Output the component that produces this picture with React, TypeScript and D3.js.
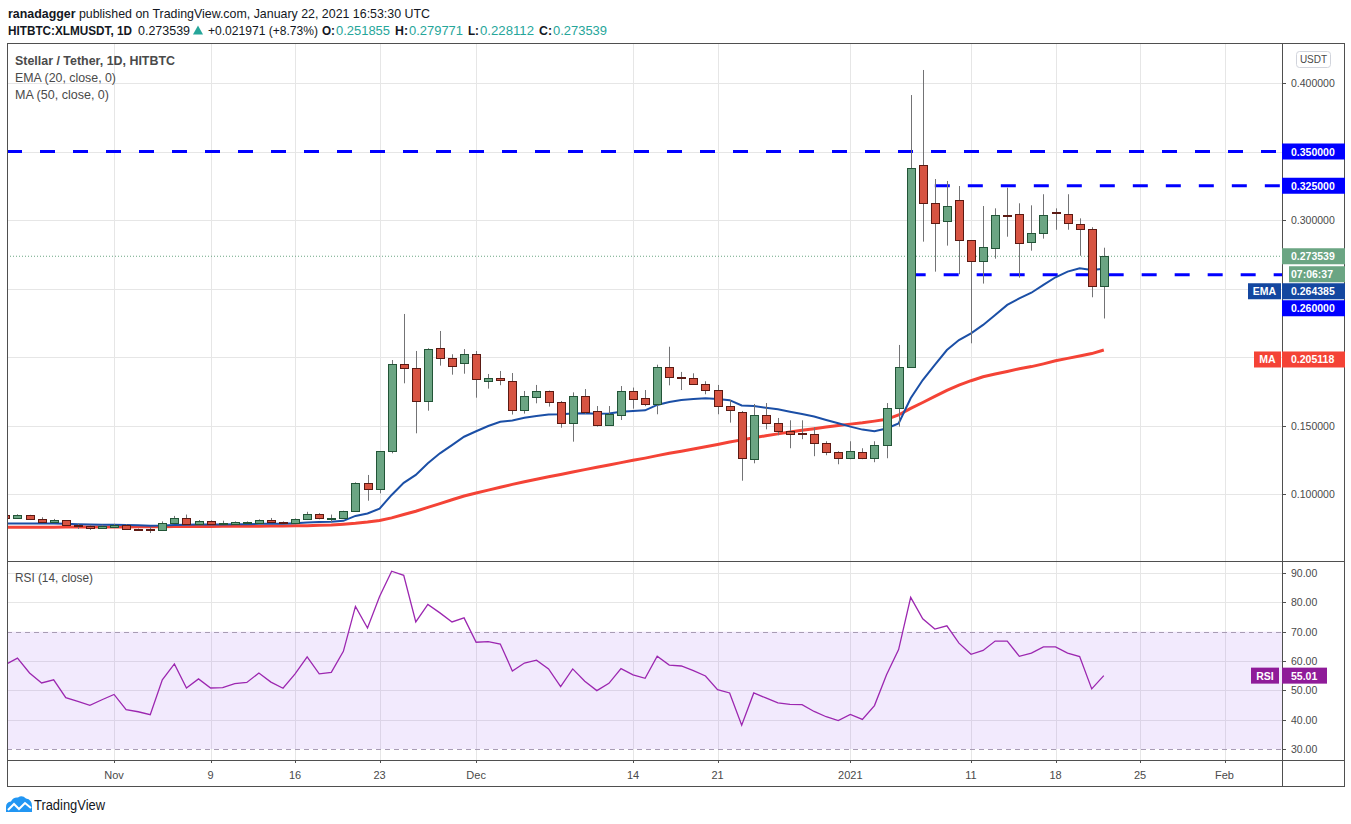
import * as d3 from 'd3';

// =============================================================================
// Data (daily candles, Oct 23 2020 -> Jan 22 2021)
// =============================================================================

const START_DAY = Date.UTC(2020, 9, 23);
const DAY_MS = 86400000;

const OPEN = [
  0.0847, 0.0825, 0.0845, 0.0815, 0.0796, 0.0808, 0.0776, 0.0765, 0.075, 0.0757,
  0.0774, 0.0745, 0.0745, 0.0735, 0.0786, 0.0825, 0.078, 0.08, 0.078, 0.078,
  0.0785, 0.079, 0.081, 0.0796, 0.0787, 0.0815, 0.0852, 0.0822, 0.0826, 0.0874,
  0.108, 0.1034, 0.1312, 0.1947, 0.1917, 0.1677, 0.2064, 0.1991, 0.1954, 0.202,
  0.1823, 0.1845, 0.1823, 0.1612, 0.1706, 0.175, 0.1669, 0.1516, 0.1713, 0.1604,
  0.1502, 0.1575, 0.175, 0.1699, 0.1655, 0.1925, 0.1852, 0.1845, 0.1801, 0.1757,
  0.1641, 0.1597, 0.1254, 0.1575, 0.1517, 0.1458, 0.1445, 0.1436, 0.1371, 0.1305,
  0.1261, 0.1305, 0.1261, 0.1356, 0.1626, 0.193, 0.3399, 0.3122, 0.2991, 0.3144,
  0.2852, 0.2699, 0.2794, 0.304, 0.3042, 0.2838, 0.2903, 0.306, 0.3046, 0.2969,
  0.2932, 0.251855,
];

const HIGH = [
  0.0855, 0.0852, 0.0848, 0.083, 0.0818, 0.081, 0.0786, 0.0775, 0.0775, 0.0782,
  0.078, 0.0748, 0.0758, 0.08, 0.084, 0.085, 0.081, 0.0808, 0.0805, 0.08,
  0.08, 0.0815, 0.0825, 0.08, 0.0822, 0.087, 0.086, 0.085, 0.0878, 0.1085,
  0.1139, 0.1312, 0.1978, 0.2314, 0.2044, 0.2064, 0.219, 0.202, 0.2058, 0.2044,
  0.1876, 0.1898, 0.1883, 0.1752, 0.1796, 0.1755, 0.1679, 0.1742, 0.1766, 0.1642,
  0.1642, 0.1788, 0.1777, 0.1759, 0.1944, 0.2075, 0.1891, 0.1881, 0.1823, 0.1796,
  0.1686, 0.1606, 0.1657, 0.1664, 0.1555, 0.1538, 0.1538, 0.1487, 0.1385, 0.1312,
  0.1385, 0.1334, 0.1385, 0.1664, 0.2088, 0.3912, 0.4095, 0.3299, 0.3285, 0.3248,
  0.2852, 0.3102, 0.3085, 0.3236, 0.3122, 0.3107, 0.3188, 0.3085, 0.3188, 0.3012,
  0.2947, 0.279771,
];

const LOW = [
  0.082, 0.0822, 0.081, 0.079, 0.0788, 0.077, 0.0745, 0.0738, 0.0745, 0.0752,
  0.074, 0.0735, 0.0715, 0.073, 0.0782, 0.078, 0.0775, 0.0775, 0.0778, 0.0778,
  0.078, 0.0785, 0.079, 0.078, 0.078, 0.081, 0.0815, 0.0794, 0.082, 0.087,
  0.0951, 0.1005, 0.1297, 0.1808, 0.1443, 0.1608, 0.1937, 0.1871, 0.1878, 0.1703,
  0.1769, 0.1794, 0.158, 0.1587, 0.1662, 0.1638, 0.1484, 0.1382, 0.1584, 0.1492,
  0.15, 0.154, 0.1623, 0.1641, 0.1582, 0.1793, 0.1759, 0.1796, 0.1728, 0.1582,
  0.1521, 0.1097, 0.1224, 0.1472, 0.1429, 0.1334, 0.14, 0.1276, 0.1283, 0.1217,
  0.1254, 0.1254, 0.1232, 0.1261, 0.1492, 0.192, 0.2842, 0.2623, 0.2813, 0.2604,
  0.21, 0.2536, 0.2718, 0.2878, 0.2579, 0.2776, 0.2864, 0.2929, 0.2929, 0.2739,
  0.2436, 0.228112,
];

const CLOSE = [
  0.0825, 0.0847, 0.0815, 0.0798, 0.081, 0.0772, 0.0765, 0.075, 0.0765, 0.0776,
  0.0743, 0.0742, 0.0735, 0.0786, 0.0825, 0.078, 0.08, 0.078, 0.079, 0.0795,
  0.0795, 0.081, 0.0796, 0.0788, 0.0815, 0.0852, 0.0822, 0.0823, 0.0874, 0.108,
  0.1034, 0.1312, 0.1947, 0.1922, 0.1677, 0.2056, 0.1991, 0.1932, 0.202, 0.1837,
  0.1845, 0.183, 0.1612, 0.1713, 0.175, 0.1669, 0.1516, 0.1713, 0.1597, 0.1502,
  0.1582, 0.175, 0.1692, 0.1655, 0.1925, 0.1852, 0.1845, 0.1801, 0.1757, 0.1641,
  0.1612, 0.1261, 0.1575, 0.1517, 0.1458, 0.1436, 0.1436, 0.1371, 0.1305, 0.1261,
  0.1312, 0.1261, 0.1356, 0.1626, 0.1925, 0.3377, 0.3123, 0.2976, 0.31, 0.2852,
  0.2699, 0.2801, 0.3034, 0.3034, 0.283, 0.2903, 0.3034, 0.3054, 0.2976, 0.2932,
  0.2516, 0.273539,
];

// EMA (20, close) as plotted
const EMA20 = [
  0.0784, 0.0784, 0.0785, 0.0784, 0.0784, 0.0782, 0.078, 0.0778, 0.0776, 0.0775,
  0.0773, 0.0771, 0.0769, 0.077, 0.0774, 0.0775, 0.0777, 0.0777, 0.0778, 0.0779,
  0.078, 0.0782, 0.0783, 0.0783, 0.0786, 0.0792, 0.0795, 0.0797, 0.0804, 0.084,
  0.0858, 0.0893, 0.0993, 0.1081, 0.1139, 0.1224, 0.1297, 0.1357, 0.1418, 0.1458,
  0.1496, 0.1527, 0.1537, 0.1556, 0.157, 0.158, 0.1582, 0.1588, 0.1589, 0.1585,
  0.1588, 0.16, 0.1606, 0.1611, 0.165, 0.1672, 0.1686, 0.1694, 0.1699, 0.1693,
  0.1685, 0.1646, 0.1642, 0.163, 0.1618, 0.1601, 0.1584, 0.1565, 0.154, 0.1516,
  0.1492, 0.147, 0.1458, 0.1478, 0.1515, 0.1699, 0.1832, 0.1942, 0.2051, 0.2124,
  0.2173, 0.2234, 0.2307, 0.238, 0.2428, 0.2469, 0.2526, 0.2582, 0.2623, 0.2647,
  0.2635, 0.264385,
];

// MA (50, close) as plotted
const MA50 = [
  0.0757, 0.0757, 0.0758, 0.0758, 0.0758, 0.0759, 0.0759, 0.0759, 0.076, 0.076,
  0.076, 0.0761, 0.0761, 0.0761, 0.0762, 0.0762, 0.0763, 0.0763, 0.0764, 0.0764,
  0.0765, 0.0765, 0.0766, 0.0767, 0.0768, 0.0769, 0.0771, 0.0773, 0.0779, 0.0786,
  0.0795, 0.0806, 0.0826, 0.085, 0.0874, 0.0902, 0.093, 0.0958, 0.0985, 0.1007,
  0.1028, 0.1049, 0.107, 0.109, 0.1108, 0.1126, 0.1143, 0.1161, 0.1178, 0.1195,
  0.1212, 0.1229, 0.1246, 0.1262, 0.128, 0.1297, 0.1312, 0.1328, 0.1345, 0.1362,
  0.138, 0.1395, 0.141, 0.1425, 0.1439, 0.1452, 0.1465, 0.1477, 0.1489, 0.15,
  0.151, 0.152, 0.1532, 0.1545, 0.1577, 0.1625, 0.1668, 0.1712, 0.1757, 0.1795,
  0.1827, 0.1856, 0.1876, 0.1894, 0.1914, 0.193, 0.195, 0.1972, 0.199, 0.2007,
  0.2025, 0.205118,
];

// RSI (14, close)
const RSI14 = [
  58.75, 61.0, 55.9, 52.5, 53.6, 47.5, 46.25, 44.9, 46.8, 48.6,
  43.4, 42.7, 41.7, 53.6, 59.0, 50.8, 53.9, 50.8, 50.9, 52.3,
  52.7, 55.9, 52.8, 50.7, 55.6, 61.4, 55.6, 56.1, 63.3, 78.6,
  71.25, 82.0, 90.6, 89.2, 73.3, 79.3, 76.4, 73.3, 74.7, 66.4,
  66.6, 65.8, 56.6, 59.3, 60.3, 57.3, 51.25, 57.3, 53.1, 49.9,
  52.4, 57.4, 55.3, 54.1, 61.6, 58.6, 58.3, 56.7, 54.9, 50.2,
  49.1, 38.1, 49.1, 47.4, 45.7, 45.2, 45.1, 42.8, 41.0, 39.7,
  41.8, 40.1, 44.8, 55.3, 63.9, 81.7, 74.4, 70.9, 72.0, 66.1,
  62.3, 63.6, 66.8, 66.8, 61.6, 62.7, 64.8, 64.8, 62.7, 61.5,
  50.5, 55.01,
];

const DATES = OPEN.map((_, i) => new Date(START_DAY + i * DAY_MS));

// Horizontal levels drawn by the author
const LEVELS = [0.35, 0.325, 0.26];
const LEVEL_START = ['2020-10-22', '2021-01-08', '2021-01-06'];

const TIME_TICKS = [
  '2020-11-01', '2020-11-09', '2020-11-16', '2020-11-23', '2020-12-01', '2020-12-14',
  '2020-12-21', '2021-01-01', '2021-01-11', '2021-01-18', '2021-01-25', '2021-02-01',
];
const TIME_LABELS = ['Nov', '9', '16', '23', 'Dec', '14', '21', '2021', '11', '18', '25', 'Feb'];

const PRICE_TICKS = [0.1, 0.15, 0.2, 0.25, 0.3, 0.35, 0.4];
// tick labels hidden behind value tags in the reference
const PRICE_LABELS = [0.1, 0.15, 0.2, 0.3, 0.4];
const RSI_TICKS = [30, 40, 50, 60, 70, 80, 90];

// =============================================================================
// Constants
// =============================================================================

const W = 1351;
const H = 824;
const LEFT = 7;
const AXIS_X = 1282;
const RIGHT = 1344;
const TOP = 43;
const PANE_SPLIT = 561;
const RSI_BOTTOM = 760;
const BOTTOM = 786;

const FONT = 'Liberation Sans, Arial, sans-serif';
const UP = '#6ba583';
const UP_BORDER = '#225437';
const DOWN = '#d75442';
const DOWN_BORDER = '#5b1a13';
const WICK = '#737375';
const GRID = '#e6e6e6';
const FRAME = '#4f4f4f';
const TEXT = '#4a4a4a';
const LEVEL_BLUE = '#0000ff';
const EMA_COLOR = '#1b4fa6';
const MA_COLOR = '#f44336';
const RSI_COLOR = '#9c27b0';
const TEAL = '#26a69a';

// =============================================================================
// Component
// =============================================================================

export default function App() {
  const x = d3
    .scaleUtc()
    .domain([DATES[0], DATES[DATES.length - 1]])
    .range([5.4, 1103.8]);
  const y = d3.scaleLinear().domain([0.1, 0.4]).range([494, 83]);
  const yRsi = d3.scaleLinear().domain([30, 90]).range([749, 573]);

  const priceLine = d3
    .line<number>()
    .x((_, i) => x(DATES[i]))
    .y((d) => y(d));
  const rsiLine = d3
    .line<number>()
    .x((_, i) => x(DATES[i]))
    .y((d) => yRsi(d));

  const last = CLOSE.length - 1;
  const lastY = y(CLOSE[last]);

  // right-axis value tags (TradingView pushes overlapping tags apart)
  const tags = [
    { text: LEVELS[0].toFixed(6), cy: y(LEVELS[0]), fill: LEVEL_BLUE, x0: AXIS_X },
    { text: LEVELS[1].toFixed(6), cy: y(LEVELS[1]), fill: LEVEL_BLUE, x0: AXIS_X },
    { text: CLOSE[last].toFixed(6), cy: lastY, fill: UP, x0: AXIS_X },
    { text: '07:06:37', cy: lastY + 18, fill: UP, x0: AXIS_X + 7 },
    { text: EMA20[last].toFixed(6), cy: lastY + 35, fill: '#1447a0', x0: AXIS_X, tag: 'EMA', tagX: 1248 },
    { text: LEVELS[2].toFixed(6), cy: lastY + 52, fill: LEVEL_BLUE, x0: AXIS_X },
    { text: MA50[last].toFixed(6), cy: y(MA50[last]) + 9.5, fill: MA_COLOR, x0: AXIS_X, tag: 'MA', tagX: 1254 },
  ];

  const header2 = [
    { x: 8, w: 124, t: 'HITBTC:XLMUSDT, 1D', bold: true, fill: '#131722' },
    { x: 138, w: 52, t: CLOSE[last].toFixed(6), bold: false, fill: '#131722' },
    { x: 208, w: 110, t: '+0.021971 (+8.73%)', bold: false, fill: '#131722' },
    { x: 322, w: 13, t: 'O:', bold: true, fill: '#131722' },
    { x: 336, w: 54, t: OPEN[last].toFixed(6), bold: false, fill: TEAL },
    { x: 395, w: 13, t: 'H:', bold: true, fill: '#131722' },
    { x: 409, w: 54, t: HIGH[last].toFixed(6), bold: false, fill: TEAL },
    { x: 468, w: 11, t: 'L:', bold: true, fill: '#131722' },
    { x: 480, w: 54, t: LOW[last].toFixed(6), bold: false, fill: TEAL },
    { x: 539, w: 13, t: 'C:', bold: true, fill: '#131722' },
    { x: 553, w: 54, t: CLOSE[last].toFixed(6), bold: false, fill: TEAL },
  ];

  return (
    <div style={{ position: 'absolute', left: 0, top: 0 }}>
      <svg width={W} height={H} style={{ display: 'block', background: '#fff' }} fontFamily={FONT}>
        <defs>
          <clipPath id="pricePane">
            <rect x={LEFT} y={TOP} width={AXIS_X - LEFT} height={PANE_SPLIT - TOP} />
          </clipPath>
          <clipPath id="rsiPane">
            <rect x={LEFT} y={PANE_SPLIT} width={AXIS_X - LEFT} height={RSI_BOTTOM - PANE_SPLIT} />
          </clipPath>
        </defs>

        {/* Header */}
        <text x={8} y={18} fontSize={13.5} fill="#131722" textLength={422} lengthAdjust="spacingAndGlyphs">
          <tspan fontWeight="bold">ranadagger</tspan>
          <tspan> published on TradingView.com, January 22, 2021 16:53:30 UTC</tspan>
        </text>
        {header2.map((s, i) => (
          <text
            key={i}
            x={s.x}
            y={35}
            fontSize={12.5}
            fontWeight={s.bold ? 'bold' : 'normal'}
            fill={s.fill}
            textLength={s.w}
            lengthAdjust="spacingAndGlyphs"
          >
            {s.t}
          </text>
        ))}
        <polygon points="193,34.5 203,34.5 198,25.5" fill={TEAL} />

        {/* Grid */}
        {TIME_TICKS.map((d) => {
          const gx = Math.round(x(new Date(d))) + 0.5;
          return (
            <g key={d}>
              <line x1={gx} x2={gx} y1={TOP} y2={RSI_BOTTOM} stroke={GRID} />
              <line x1={gx} x2={gx} y1={RSI_BOTTOM} y2={RSI_BOTTOM + 3} stroke={FRAME} />
            </g>
          );
        })}
        {PRICE_TICKS.map((p) => (
          <line key={p} x1={LEFT} x2={AXIS_X} y1={Math.round(y(p)) + 0.5} y2={Math.round(y(p)) + 0.5} stroke={GRID} />
        ))}
        {RSI_TICKS.filter((v) => v !== 30 && v !== 70).map((v) => (
          <line key={v} x1={LEFT} x2={AXIS_X} y1={Math.round(yRsi(v)) + 0.5} y2={Math.round(yRsi(v)) + 0.5} stroke={GRID} />
        ))}

        {/* Price pane */}
        <g clipPath="url(#pricePane)">
          {LEVELS.map((lv, i) => (
            <line
              key={lv}
              x1={Math.max(LEFT, x(new Date(LEVEL_START[i])))}
              x2={AXIS_X}
              y1={y(lv)}
              y2={y(lv)}
              stroke={LEVEL_BLUE}
              strokeWidth={3}
              strokeDasharray="15,18"
            />
          ))}
          <line x1={LEFT} x2={AXIS_X} y1={lastY} y2={lastY} stroke={UP} strokeWidth={1} strokeDasharray="1,2" />
          <path d={priceLine(MA50) ?? ''} fill="none" stroke={MA_COLOR} strokeWidth={3} />
          <path d={priceLine(EMA20) ?? ''} fill="none" stroke={EMA_COLOR} strokeWidth={2} />

          {DATES.map((d, i) => {
            const cx = Math.round(x(d));
            const o = OPEN[i];
            const c = CLOSE[i];
            const up = c >= o;
            const yTop = Math.round(y(Math.max(o, c)));
            const yBot = Math.round(y(Math.min(o, c)));
            return (
              <g key={i}>
                <line x1={cx + 0.5} x2={cx + 0.5} y1={y(HIGH[i])} y2={y(LOW[i])} stroke={WICK} strokeWidth={1} />
                <rect
                  x={cx - 3.5}
                  y={yTop + 0.5}
                  width={8}
                  height={Math.max(1, yBot - yTop)}
                  fill={up ? UP : DOWN}
                  stroke={up ? UP_BORDER : DOWN_BORDER}
                  strokeWidth={1}
                />
              </g>
            );
          })}
        </g>

        <text x={15} y={65} fontSize={13} fontWeight="bold" fill={TEXT} textLength={160} lengthAdjust="spacingAndGlyphs">
          Stellar / Tether, 1D, HITBTC
        </text>
        <text x={15} y={82} fontSize={13} fill={TEXT} textLength={101} lengthAdjust="spacingAndGlyphs">
          EMA (20, close, 0)
        </text>
        <text x={15} y={99} fontSize={13} fill={TEXT} textLength={94} lengthAdjust="spacingAndGlyphs">
          MA (50, close, 0)
        </text>

        {/* RSI pane */}
        <rect
          x={LEFT}
          y={yRsi(70)}
          width={AXIS_X - LEFT}
          height={yRsi(30) - yRsi(70)}
          fill="rgba(150, 80, 235, 0.12)"
        />
        {[70, 30].map((v) => (
          <line
            key={v}
            x1={LEFT}
            x2={AXIS_X}
            y1={Math.round(yRsi(v)) + 0.5}
            y2={Math.round(yRsi(v)) + 0.5}
            stroke="#a89cb4"
            strokeDasharray="5,4"
          />
        ))}
        <g clipPath="url(#rsiPane)">
          <path d={rsiLine(RSI14) ?? ''} fill="none" stroke={RSI_COLOR} strokeWidth={1.3} />
        </g>
        <text x={15} y={582} fontSize={13} fill={TEXT} textLength={78} lengthAdjust="spacingAndGlyphs">
          RSI (14, close)
        </text>

        {/* Frame & axes */}
        <rect x={LEFT + 0.5} y={TOP + 0.5} width={RIGHT - LEFT} height={BOTTOM - TOP} fill="none" stroke={FRAME} />
        <line x1={AXIS_X + 0.5} x2={AXIS_X + 0.5} y1={TOP} y2={BOTTOM} stroke={FRAME} />
        <line x1={LEFT} x2={RIGHT} y1={PANE_SPLIT + 0.5} y2={PANE_SPLIT + 0.5} stroke={FRAME} />
        <line x1={LEFT} x2={RIGHT} y1={RSI_BOTTOM + 0.5} y2={RSI_BOTTOM + 0.5} stroke={FRAME} />

        {TIME_TICKS.map((d, i) => (
          <text key={d} x={x(new Date(d))} y={779} fontSize={11} fill={TEXT} textAnchor="middle">
            {TIME_LABELS[i]}
          </text>
        ))}

        {/* Price axis */}
        {PRICE_TICKS.map((p) => (
          <line key={p} x1={AXIS_X} x2={AXIS_X + 4} y1={Math.round(y(p)) + 0.5} y2={Math.round(y(p)) + 0.5} stroke={FRAME} />
        ))}
        {PRICE_LABELS.map((p) => (
          <text key={p} x={1291} y={y(p) + 4} fontSize={10.5} fill={TEXT}>
            {p.toFixed(6)}
          </text>
        ))}
        <rect x={1296.5} y={51.5} width={34} height={16} rx={3} fill="#fff" stroke="#d1d4dc" />
        <text x={1313.5} y={63} fontSize={10} fill={TEXT} textAnchor="middle">
          USDT
        </text>

        {tags.map((t, i) => (
          <g key={i}>
            <rect x={t.x0} y={t.cy - 8} width={RIGHT + 1 - t.x0} height={16} fill={t.fill} />
            <text x={1291} y={t.cy + 4} fontSize={10.5} fontWeight="bold" fill="#fff">
              {t.text}
            </text>
            {t.tag && (
              <g>
                <rect x={t.tagX} y={t.cy - 8} width={AXIS_X - 1 - (t.tagX as number)} height={16} fill={t.fill} />
                <text
                  x={((t.tagX as number) + AXIS_X - 1) / 2}
                  y={t.cy + 4}
                  fontSize={10.5}
                  fontWeight="bold"
                  fill="#fff"
                  textAnchor="middle"
                >
                  {t.tag}
                </text>
              </g>
            )}
          </g>
        ))}

        {/* RSI axis */}
        {RSI_TICKS.map((v) => (
          <g key={v}>
            <line x1={AXIS_X} x2={AXIS_X + 4} y1={Math.round(yRsi(v)) + 0.5} y2={Math.round(yRsi(v)) + 0.5} stroke={FRAME} />
            <text x={1291} y={yRsi(v) + 4} fontSize={10.5} fill={TEXT}>
              {v.toFixed(2)}
            </text>
          </g>
        ))}
        <rect x={1251} y={yRsi(RSI14[last]) - 8} width={28} height={16} fill="#8f1b99" />
        <text x={1265} y={yRsi(RSI14[last]) + 4} fontSize={10.5} fontWeight="bold" fill="#fff" textAnchor="middle">
          RSI
        </text>
        <rect x={AXIS_X} y={yRsi(RSI14[last]) - 8} width={45} height={16} fill="#8f1b99" />
        <text x={1291} y={yRsi(RSI14[last]) + 4} fontSize={10.5} fontWeight="bold" fill="#fff">
          {RSI14[last].toFixed(2)}
        </text>

        {/* TradingView logo */}
        <path
          d="M6,812 L6,807 Q6,802 11,801.5 Q13,797 18,797.5 Q22,794.5 26,798.5 Q32,799.5 32,806 L32,812 Z"
          fill="#2196f3"
        />
        <polyline points="8,810 14,804 19,809 25,803 31,808" fill="none" stroke="#fff" strokeWidth={2} />
        <text x={34} y={810} fontSize={14} fill="#131722" textLength={71} lengthAdjust="spacingAndGlyphs">
          TradingView
        </text>
      </svg>
    </div>
  );
}
